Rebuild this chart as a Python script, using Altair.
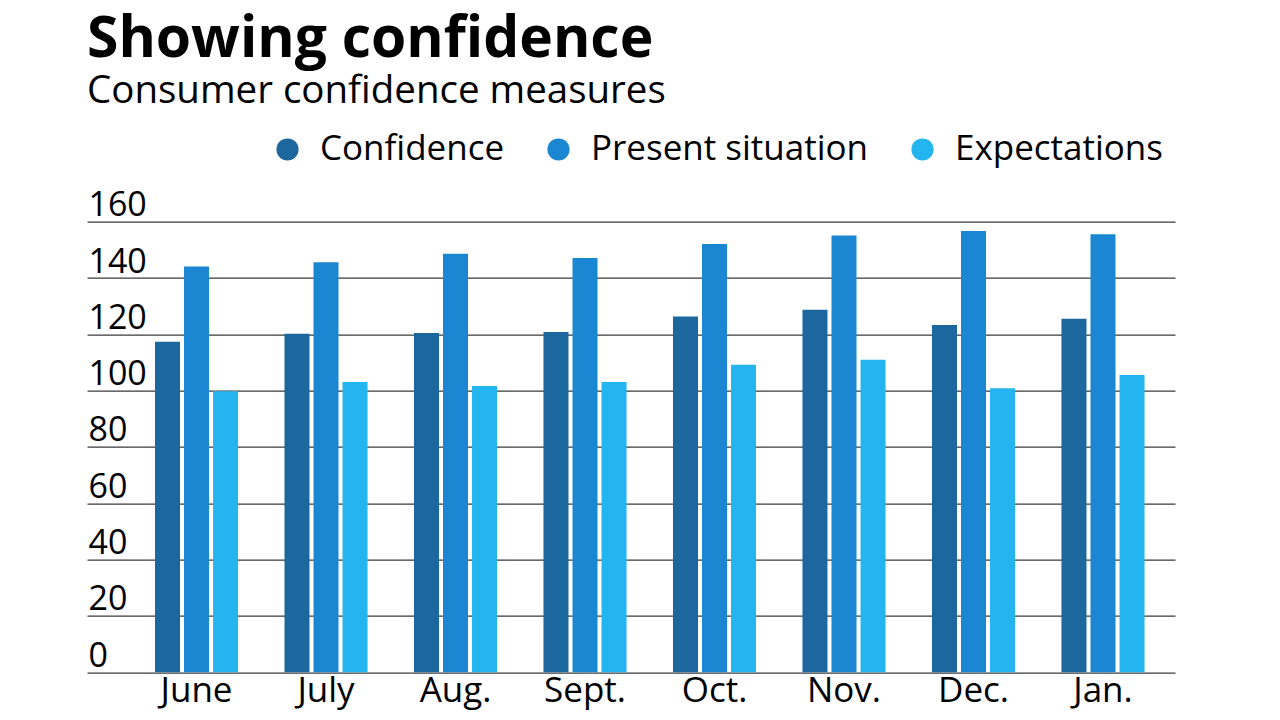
import altair as alt
import pandas as pd

months = ["June", "July", "Aug.", "Sept.", "Oct.", "Nov.", "Dec.", "Jan."]
series = ["Confidence", "Present situation", "Expectations"]
confidence = [117.4, 120.2, 120.5, 120.8, 126.3, 128.7, 123.3, 125.5]
present = [144.1, 145.6, 148.6, 147.1, 152.1, 155.1, 156.7, 155.5]
expectations = [99.8, 103.1, 101.7, 103.1, 109.2, 111.0, 100.9, 105.6]
colors = ["#1c679e", "#1b86d1", "#24b5f1"]
y_ticks = [0, 20, 40, 60, 80, 100, 120, 140, 160]

rows = []
for name, vals in zip(series, [confidence, present, expectations]):
    for m, v in zip(months, vals):
        rows.append({"month": m, "series": name, "value": v})
df = pd.DataFrame(rows)

FONT = "Open Sans"

chart = alt.Chart(df).mark_bar().encode(
    x=alt.X("month:N", sort=months,
            scale=alt.Scale(paddingInner=0, paddingOuter=0.2008, align=0.8606, round=False),
            axis=alt.Axis(title=None, labelAngle=0, labelFontSize=35, labelFont=FONT,
                          labelColor="#000", labelPadding=1, domain=False, ticks=False)),
    xOffset=alt.XOffset("series:N", sort=series,
                        scale=alt.Scale(paddingInner=0.138, paddingOuter=0.8)),
    y=alt.Y("value:Q", scale=alt.Scale(domain=[0, 160], nice=False),
            axis=alt.Axis(title=None, values=y_ticks, domain=False, ticks=False,
                          grid=True, gridColor="#3a3a3a", gridWidth=1.3,
                          labelAlign="left", labelBaseline="alphabetic",
                          labelPadding=-1, labelOffset=-6,
                          labelFontSize=34, labelFont=FONT, labelColor="#000")),
    color=alt.Color("series:N", sort=series,
                    scale=alt.Scale(domain=series, range=colors),
                    legend=alt.Legend(orient="none", legendX=183, legendY=-90,
                                      direction="horizontal", title=None,
                                      symbolType="circle", symbolSize=490,
                                      symbolStrokeWidth=0, symbolOpacity=1,
                                      labelFontSize=35, labelFont=FONT, labelColor="#000",
                                      labelLimit=0, labelOffset=15, columnPadding=36)),
).properties(
    width=1088,
    height=450.6,
    title=alt.TitleParams(
        text="Showing confidence",
        subtitle="Consumer confidence measures",
        anchor="start", frame="group",
        font=FONT, fontSize=57, fontWeight="bold", color="#000",
        subtitleFont=FONT, subtitleFontSize=38.5, subtitleColor="#000",
        subtitlePadding=4, offset=20,
    ),
    autosize=alt.AutoSizeParams(type="none"),
    padding={"left": 79, "top": 213.7, "right": 90, "bottom": 40},
).configure_view(stroke=None).configure_axis(gridOpacity=1)

chart.save("out.html", embed_options={"renderer": "svg", "actions": False})
